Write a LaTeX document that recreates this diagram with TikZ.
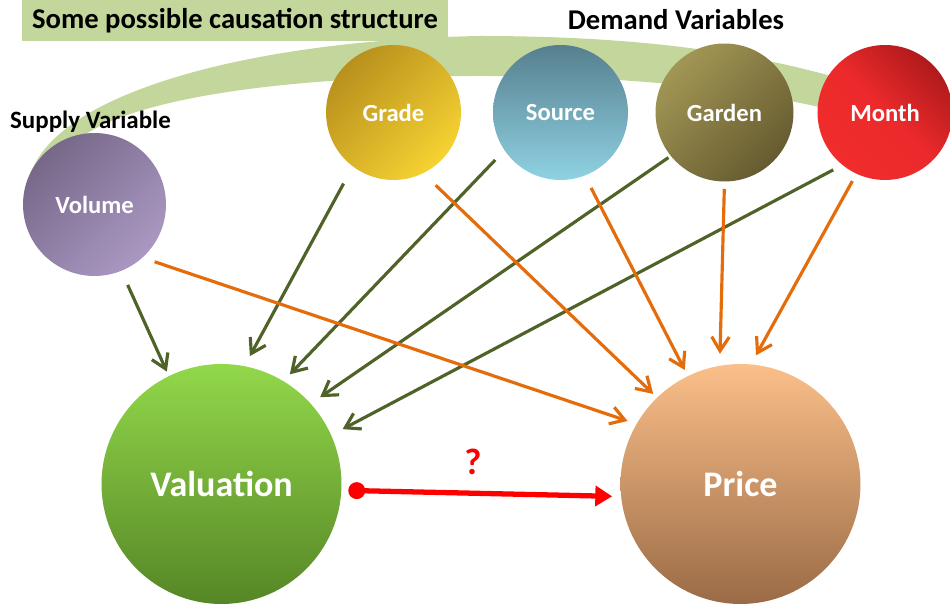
\documentclass[tikz,border=0pt]{standalone}
\usepackage{fontspec}
\setmainfont{Carlito}
\usetikzlibrary{arrows.meta}

\definecolor{bandgreen}{HTML}{C3D69B}
\definecolor{arrowgreen}{HTML}{4F6228}
\definecolor{arroworange}{HTML}{E46C0A}
\definecolor{qred}{HTML}{FF0000}

\tikzset{
    ball/.style={shape=circle, inner sep=0pt, outer sep=0pt, text=white,
        font=\fontsize{14}{16}\selectfont\bfseries},
    smallball/.style={ball, minimum size=2.7cm},
    bigball/.style={ball, minimum size=4.8cm, font=\fontsize{20.5}{24}\selectfont\bfseries},
    heading/.style={font=\fontsize{16.3}{19}\selectfont\bfseries},
    greenarrow/.style={draw=arrowgreen, line width=1.8pt, -{Straight Barb[length=8pt,width=10pt]}},
    orangearrow/.style={draw=arroworange, line width=1.8pt, -{Straight Barb[length=8pt,width=10pt]}},
    redarrow/.style={draw=qred, line width=3pt, {Circle[length=9.6pt]}-{Triangle[length=9.6pt,width=11.3pt]}}
}

\begin{document}
\begin{tikzpicture}[x=0.02cm, y=-0.02cm]

    \useasboundingbox (0,0) rectangle (950,607);

    % green band behind the top row
    \fill[bandgreen] (27,190) .. controls (35,95) and (250,40) .. (480,36)
        .. controls (650,36) and (760,55) .. (845,80) -- (840,112)
        .. controls (760,92) and (650,76) .. (480,76)
        .. controls (280,76) and (90,100) .. (60,160) -- cycle;

    \node(title)[heading, fill=bandgreen, minimum width=8.52cm, minimum height=0.82cm] at (235,20.5) {Some possible causation structure};
    \node(demand)[heading] at (676,20) {Demand Variables};
    \node(supply)[heading, font=\fontsize{14.2}{17}\selectfont\bfseries] at (90.5,122) {Supply Variable};

    \node(vol)[ball, minimum size=2.86cm, top color={rgb,255:red,119;green,104;blue,137}, bottom color={rgb,255:red,170;green,152;blue,194}, shading angle=45] at (94.5,204.5) {Volume};
    \node(grade)[smallball, top color={rgb,255:red,184;green,144;blue,29}, bottom color={rgb,255:red,246;green,210;blue,50}, shading angle=45] at (393.5,112.5) {Grade};
    \node(source)[smallball, top color={rgb,255:red,86;green,127;blue,142}, bottom color={rgb,255:red,143;green,210;blue,227}] at (560.5,112.5) {Source};
    \node(garden)[smallball, minimum size=2.76cm, top color={rgb,255:red,162;green,150;blue,85}, bottom color={rgb,255:red,102;green,91;blue,48}, shading angle=45] at (724.5,112.5) {Garden};
    \node(month)[smallball, top color={rgb,255:red,176;green,26;blue,28}, bottom color={rgb,255:red,240;green,44;blue,44}, middle color={rgb,255:red,236;green,42;blue,43}, shading angle=-45] at (885,112.5) {Month};

    \node(val)[bigball, top color={rgb,255:red,146;green,216;blue,74}, bottom color={rgb,255:red,86;green,134;blue,38}] at (221.5,484) {Valuation};
    \node(price)[bigball, top color={rgb,255:red,251;green,191;blue,137}, bottom color={rgb,255:red,154;green,107;blue,70}] at (740.5,484) {Price};

    \foreach \from/\fa/\fg/\ta/\tg in {vol/-68/3.1/116.4/1.0, grade/-127/3.9/79/2.3, source/-146.6/2.7/59.7/1.9, garden/-141.8/0.6/42.7/2.3, month/-129/2.1/24.9/2.6}
    {
        \draw[greenarrow, shorten <=\fg mm, shorten >=\tg mm] (\from.\fa) -- (val.\ta);
    }

    \foreach \from/\fa/\fg/\ta/\tg in {vol/-48.8/2.6/150.4/1.9, grade/-64.5/3.5/134.8/1.1, source/-69.6/2.8/116.4/1.4, garden/-90.4/1.5/100.2/2.4, month/-115.7/1.7/85.8/2.1}
    {
        \draw[orangearrow, shorten <=\fg mm, shorten >=\tg mm] (\from.\fa) -- (price.\ta);
    }

    \draw[redarrow, shorten <=1.4mm, shorten >=1.8mm] (val.-3.4) -- (price.186.7);
    \node(q)[text=qred, font=\fontsize{21}{24}\selectfont\bfseries] at (473,462) {?};

\end{tikzpicture}
\end{document}
